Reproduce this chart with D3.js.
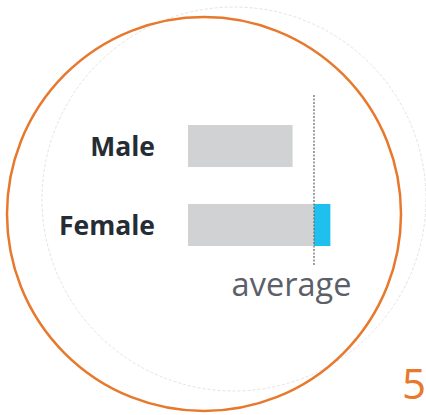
<!DOCTYPE html>
<html>
<head>
<meta charset="utf-8">
<script src="https://cdn.jsdelivr.net/npm/d3@7"></script>
<style>
  html, body { margin: 0; padding: 0; background: #fff; }
  svg { display: block; }
</style>
</head>
<body>
<div id="chart"></div>
<script>
// Data (average = 100).
var categories = ['Male', 'Female'];
var values = [83, 113];
var averageValue = 100;
var averageLabel = 'average';
var badgeLabel = '5';

var width = 426, height = 415;

var svg = d3.select('#chart').append('svg')
  .attr('width', width)
  .attr('height', height);

// Faint background ring and the orange ring.
svg.append('circle')
  .attr('cx', 234).attr('cy', 199).attr('r', 192)
  .attr('fill', 'none')
  .attr('stroke', '#e3e3e3')
  .attr('stroke-width', 1)
  .attr('stroke-dasharray', '3,2');

svg.append('circle')
  .attr('cx', 204).attr('cy', 214).attr('r', 197)
  .attr('fill', 'none')
  .attr('stroke', '#e8782b')
  .attr('stroke-width', 2.5);

var x = d3.scaleLinear()
  .domain([0, 100])
  .range([188, 314]);

var y = d3.scaleBand()
  .domain(categories)
  .range([125, 246])
  .paddingInner(0.468)
  .paddingOuter(0);

var g = svg.append('g');

categories.forEach(function(c, i) {
  var v = values[i];
  var base = Math.min(v, averageValue);

  g.append('rect')
    .attr('x', x(0))
    .attr('y', y(c))
    .attr('width', x(base) - x(0))
    .attr('height', y.bandwidth())
    .attr('fill', '#d1d2d4');

  if (v > averageValue) {
    g.append('rect')
      .attr('x', x(averageValue))
      .attr('y', y(c))
      .attr('width', x(v) - x(averageValue))
      .attr('height', y.bandwidth())
      .attr('fill', '#1fbfee');
  }

  g.append('text')
    .attr('x', 155)
    .attr('y', y(c) + y.bandwidth() / 2)
    .attr('dy', '0.36em')
    .attr('text-anchor', 'end')
    .attr('font-family', '"Open Sans", sans-serif')
    .attr('font-weight', 'bold')
    .attr('font-size', 26.5)
    .attr('fill', '#262c34')
    .text(c);
});

// Average marker
g.append('line')
  .attr('x1', x(averageValue))
  .attr('x2', x(averageValue))
  .attr('y1', 95)
  .attr('y2', 265)
  .attr('stroke', '#6d7075')
  .attr('stroke-width', 1.3)
  .attr('stroke-dasharray', '2,1.5');

g.append('text')
  .attr('x', 291.5)
  .attr('y', 296)
  .attr('text-anchor', 'middle')
  .attr('font-family', '"Open Sans", sans-serif')
  .attr('font-size', 32.5)
  .attr('fill', '#5b6068')
  .text(averageLabel);

svg.append('text')
  .attr('x', 414)
  .attr('y', 399)
  .attr('text-anchor', 'middle')
  .attr('font-family', '"Open Sans", sans-serif')
  .attr('font-size', 42)
  .attr('fill', '#e8782b')
  .text(badgeLabel);
</script>
</body>
</html>
